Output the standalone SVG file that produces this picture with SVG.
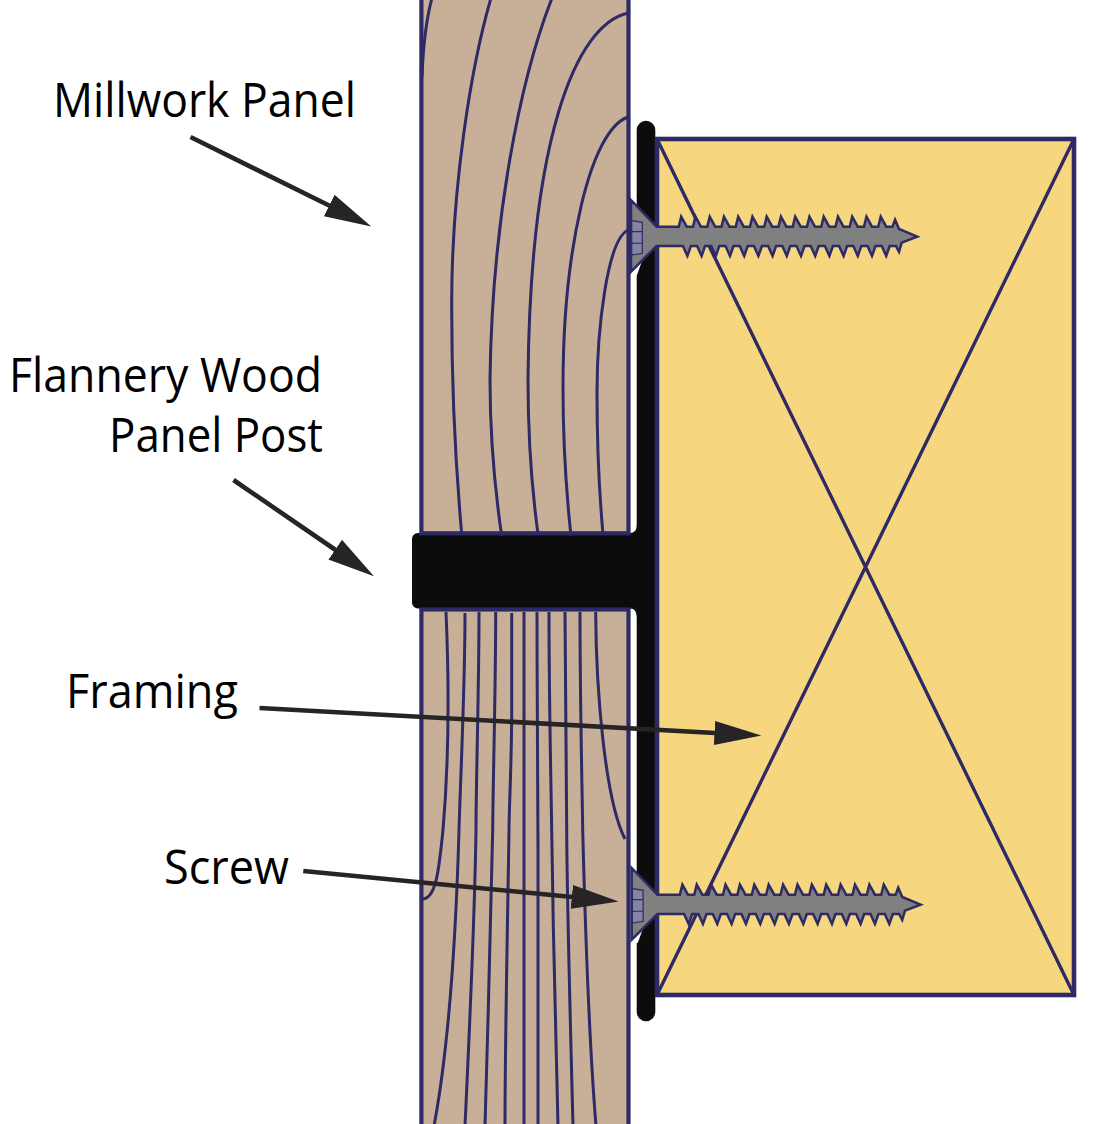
<svg xmlns="http://www.w3.org/2000/svg" xmlns:xlink="http://www.w3.org/1999/xlink" width="1105" height="1124" viewBox="0 0 1105 1124">
<style>
.wood{fill:#c8b098;stroke:#2e2a66;stroke-width:4.2}
.grain{fill:none;stroke:#2e2a66;stroke-width:3}
.frame{fill:#f6d77f;stroke:#2e2a66;stroke-width:4.6}
.diag{fill:none;stroke:#2e2a66;stroke-width:3.4}
.shaft{fill:#808080;stroke:#2e2a66;stroke-width:2.5;stroke-linejoin:miter;stroke-miterlimit:4}
.socket{fill:#8584a3;stroke:#2e2a66;stroke-width:1.2}
.label{font-family:"Open Sans","Noto Sans",sans-serif;font-size:47px;fill:#000}
.leader{fill:none;stroke:#262425;stroke-width:4.6;marker-end:url(#head)}
</style>
<defs>
<marker id="head" markerUnits="userSpaceOnUse" markerWidth="48" markerHeight="26" refX="0.5" refY="13" orient="auto">
<path d="M0 1 L47 13 L0 25 Z" fill="#262425"/>
</marker>
<g id="screw-shape">
<polygon points="631,272 642,261 637,275 631,275" fill="#fff"/>
<path class="shaft" d="M631 200 L656.5 226.7 H678.7 l2.5-10 l5.5 10 h6.25 l2.5-10 l5.5 10 h6.25 l2.5-10 l5.5 10 h6.25 l2.5-10 l5.5 10 h6.25 l2.5-10 l5.5 10 h6.25 l2.5-10 l5.5 10 h6.25 l2.5-10 l5.5 10 h6.25 l2.5-10 l5.5 10 h6.25 l2.5-10 l5.5 10 h6.25 l2.5-10 l5.5 10 h6.25 l2.5-10 l5.5 10 h6.25 l2.5-10 l5.5 10 h6.25 l2.5-10 l5.5 10 h6.25 l2.5-10 l5.5 10 h6.25 l2.5-10 l5.5 10 h6.25 l2.6-7 l4 9.3 L917.3 236.7 L901.7 242.7 L899 252 L895.9 246 h-6.2 l-3.5 10 l-4.5-10 h-6.2 l-3.5 10 l-4.5-10 h-6.2 l-3.5 10 l-4.5-10 h-6.2 l-3.5 10 l-4.5-10 h-6.2 l-3.5 10 l-4.5-10 h-6.2 l-3.5 10 l-4.5-10 h-6.2 l-3.5 10 l-4.5-10 h-6.2 l-3.5 10 l-4.5-10 h-6.2 l-3.5 10 l-4.5-10 h-6.2 l-3.5 10 l-4.5-10 h-6.2 l-3.5 10 l-4.5-10 h-6.2 l-3.5 10 l-4.5-10 h-6.2 l-3.5 10 l-4.5-10 h-6.2 l-3.5 10 l-4.5-10 h-6.2 l-3.5 10 l-4.5-10 H656.5 L631 271.7 Z"/>
<path class="socket" d="M631.7 220.7 L642.3 222.3 V253.3 L631.7 255 Z M631.7 231.7 L642.3 231.7 M631.7 243.3 L642.3 243"/>
</g>
</defs>

<g id="panel-post">
<path fill="#0c0c0c" d="M636.7 130 a9.3 9.3 0 0 1 18.6 0 V1012 a9.3 9.3 0 0 1 -18.6 0 V617 Q636.7 608.5 630 608.5 H418 a6 6 0 0 1 -6 -6 V539 a6 6 0 0 1 6 -6 H630 Q636.7 533 636.7 525 Z"/>
</g>

<g id="millwork-panel-upper">
<rect class="wood" x="421.4" y="-5" width="207.1" height="538.3"/>
<path class="grain" d="M432 -2 C426 20 423 50 422 77"/>
<path class="grain" d="M491 -2 C470 70 452 190 451.7 300 C451.5 390 456 470 461.7 534"/>
<path class="grain" d="M552 -2 C520 80 492 220 490 380 C490 430 495 490 501.7 536"/>
<path class="grain" d="M628 13 C575 25 530 140 528 380 C528 440 532 490 538 534"/>
<path class="grain" d="M628 117 C590 130 563 250 563 387 C563 440 566 490 571 536"/>
<path class="grain" d="M628 230 C607 240 597 330 597 393 C597 440 599 490 603 534"/>
</g>

<g id="millwork-panel-lower">
<rect class="wood" x="421.4" y="609.5" width="207.1" height="520"/>
<path class="grain" d="M446 612 C449 680 449 760 443 830 C439 870 436 898 423 899"/>
<path class="grain" d="M465 613 C465 690 460 790 459 830 C457 900 452 1030 434 1126"/>
<path class="grain" d="M479 612 C479 690 476 780 476 830 C475 900 470 1020 465 1126"/>
<path class="grain" d="M495.7 612 C495.7 690 493 780 492.7 830 C491 900 488 1030 485 1126"/>
<path class="grain" d="M511.7 613 V720 C511 780 509 810 509 830 C508 900 505 1040 505 1126"/>
<path class="grain" d="M524 612 V1126"/>
<path class="grain" d="M537 612 C537 700 538 800 538 850 V1126"/>
<path class="grain" d="M549 612 C549 700 551 780 551.7 830 C553 930 556 1050 558 1126"/>
<path class="grain" d="M565 612 C565 700 566 780 566.7 830 C567 900 571 1050 573 1126"/>
<path class="grain" d="M580 612 C580 700 582 780 582.7 830 C585 920 589 1040 596 1126"/>
<path class="grain" d="M595.7 612 C596 690 605 800 625 839"/>
</g>

<g id="framing">
<rect class="frame" x="657" y="139" width="417" height="856"/>
<path class="diag" d="M657 139 L1074 995 M1074 139 L657 995"/>
</g>

<g id="screw-top"><use href="#screw-shape" xlink:href="#screw-shape"/></g>
<g id="screw-bottom"><use href="#screw-shape" xlink:href="#screw-shape" transform="translate(631.7 668) scale(1.0094 1) translate(-631 0)"/></g>

<g id="label-millwork-panel"><text class="label" x="53" y="117" textLength="303" lengthAdjust="spacingAndGlyphs">Millwork Panel</text></g>
<g id="label-flannery"><text class="label" x="9" y="392" textLength="313" lengthAdjust="spacingAndGlyphs">Flannery Wood</text><text class="label" x="109" y="452" textLength="214" lengthAdjust="spacingAndGlyphs">Panel Post</text></g>
<g id="label-framing"><text class="label" x="66" y="708" textLength="172" lengthAdjust="spacingAndGlyphs">Framing</text></g>
<g id="label-screw"><text class="label" x="164" y="884" textLength="125" lengthAdjust="spacingAndGlyphs">Screw</text></g>

<g id="connectors">
<line class="leader" x1="190.5" y1="137" x2="329.6" y2="205.8"/>
<line class="leader" x1="233.5" y1="480" x2="335.6" y2="550"/>
<line class="leader" x1="259.5" y1="708" x2="715" y2="733"/>
<line class="leader" x1="303.3" y1="871" x2="572.3" y2="897"/>
</g>
</svg>
